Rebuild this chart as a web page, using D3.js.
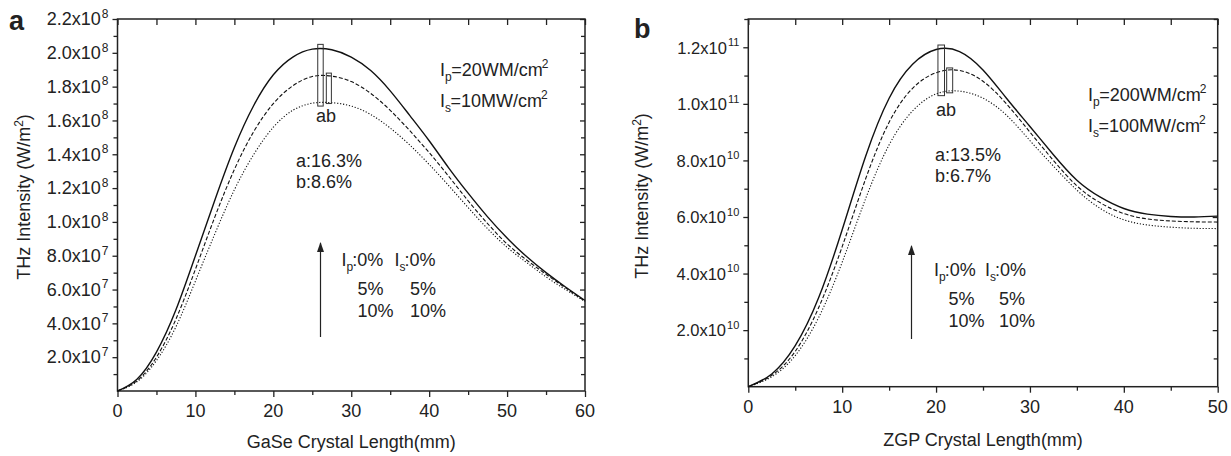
<!DOCTYPE html>
<html>
<head>
<meta charset="utf-8">
<script src="https://cdn.jsdelivr.net/npm/d3@7"></script>
<style>
  body { margin: 0; background: #fff; }
  text { font-family: "Liberation Sans", Arial, sans-serif; fill: #222; }
</style>
</head>
<body>
<svg id="chart" width="1231" height="456"></svg>
<script>
// panel a: GaSe, intensity in units of 1e7 W/m^2
const gaseLength = [0, 2.5, 5, 7.5, 10, 12.5, 15, 17.5, 20, 22.5, 25, 27.5, 30,
  32.5, 35, 37.5, 40, 42.5, 45, 47.5, 50, 52.5, 55, 57.5, 60];
const gaseNoError = [0, 0.7, 2.3, 4.8, 8.0, 11.3, 14.4, 16.9, 18.7, 19.75, 20.22, 20.18, 19.75,
  18.95, 17.75, 16.3, 14.8, 13.2, 11.7, 10.3, 9.05, 7.95, 7.0, 6.15, 5.35];
const gaseError5 = [0, 0.6, 2.0, 4.25, 7.2, 10.3, 13.1, 15.35, 17.0, 18.05, 18.6, 18.62, 18.3,
  17.6, 16.6, 15.4, 14.1, 12.7, 11.25, 9.9, 8.7, 7.75, 6.9, 6.1, 5.3];
const gaseError10 = [0, 0.55, 1.8, 3.8, 6.5, 9.3, 11.9, 14.0, 15.6, 16.6, 17.02, 17.05, 16.85,
  16.35, 15.55, 14.55, 13.4, 12.15, 10.85, 9.6, 8.5, 7.6, 6.75, 6.0, 5.3];
const gaseUnit = 1e7;
// peak drop boxes a, b: [x0, x1, yLow, yHigh]
const gaseBoxes = [[25.7, 26.4, 1.685e8, 2.05e8], [26.8, 27.45, 1.70e8, 1.88e8]];
const gaseYTicks = [2e7, 4e7, 6e7, 8e7, 1e8, 1.2e8, 1.4e8, 1.6e8, 1.8e8, 2e8, 2.2e8];

// panel b: ZGP, intensity in units of 1e10 W/m^2
const zgpLength = [0, 2.5, 5, 7.5, 10, 12.5, 15, 17.5, 20, 22.5, 25, 27.5, 30,
  32.5, 35, 37.5, 40, 42.5, 45, 47.5, 50];
const zgpNoError = [0, 0.45, 1.45, 3.15, 5.55, 8.15, 10.2, 11.4, 11.92, 11.85, 11.2, 10.2, 9.2,
  8.2, 7.3, 6.7, 6.3, 6.1, 6.02, 6.0, 6.03];
const zgpError5 = [0, 0.4, 1.25, 2.8, 4.95, 7.35, 9.35, 10.55, 11.1, 11.18, 10.8, 10.0, 9.0,
  8.0, 7.1, 6.5, 6.12, 5.93, 5.86, 5.83, 5.82];
const zgpError10 = [0, 0.35, 1.1, 2.45, 4.4, 6.65, 8.55, 9.75, 10.35, 10.45, 10.2, 9.6, 8.7,
  7.8, 6.95, 6.3, 5.9, 5.72, 5.64, 5.6, 5.59];
const zgpUnit = 1e10;
const zgpBoxes = [[20.2, 20.9, 1.029e11, 1.208e11], [21.13, 21.77, 1.039e11, 1.127e11]];
const zgpYTicks = [2e10, 4e10, 6e10, 8e10, 1e11, 1.2e11];

const svg = d3.select('#chart');

const styles = [
  {dash: null, width: 1.4},
  {dash: '4,2', width: 1.1},
  {dash: '1.2,1.8', width: 1.1}
];

svg.append('defs').append('marker')
    .attr('id', 'head')
    .attr('viewBox', '0 0 10 10')
    .attr('refX', 9).attr('refY', 5)
    .attr('markerWidth', 10).attr('markerHeight', 10)
    .attr('markerUnits', 'userSpaceOnUse')
    .attr('orient', 'auto')
  .append('path')
    .attr('d', 'M0,1.5L10,5L0,8.5Z')
    .attr('fill', '#222');

drawPanel({
  left: 117.5, right: 585, top: 19, bottom: 391,
  xMax: 60, yMax: 2.2e8, yMinorStep: 1e7,
  xs: gaseLength, series: [gaseNoError, gaseError5, gaseError10], unit: gaseUnit,
  boxes: gaseBoxes, yTicks: gaseYTicks, tickFont: 18, supFont: 12,
  xTitle: 'GaSe Crystal Length(mm)', xTitleY: 448, yTitleX: 30, yTitleY: 197,
  letter: 'a', letterX: 9, letterY: 30,
  ab: [326, 122], pct: [296, 167, 'a:16.3%', 'b:8.6%'],
  pump: [440, 75.5, '=20WM/cm', '=10MW/cm'],
  arrow: [320.5, 337, 243],
  legend: [341.5, 266, 357.5, 394.5, 410]
});

drawPanel({
  left: 748.3, right: 1217.7, top: 19, bottom: 386.7,
  xMax: 50, yMax: 1.3e11, yMinorStep: 1e10,
  xs: zgpLength, series: [zgpNoError, zgpError5, zgpError10], unit: zgpUnit,
  boxes: zgpBoxes, yTicks: zgpYTicks, tickFont: 16.5, supFont: 11,
  xTitle: 'ZGP Crystal Length(mm)', xTitleY: 446, yTitleX: 648, yTitleY: 196,
  letter: 'b', letterX: 634, letterY: 38,
  ab: [946, 116], pct: [935, 161, 'a:13.5%', 'b:6.7%'],
  pump: [1088, 100.5, '=200WM/cm', '=100MW/cm'],
  arrow: [911.5, 339, 246],
  legend: [934, 275.5, 948.5, 985, 999]
});

function drawPanel(p) {
  const g = svg.append('g');
  const x = d3.scaleLinear().domain([0, p.xMax]).range([p.left, p.right]);
  const y = d3.scaleLinear().domain([0, p.yMax]).range([p.bottom, p.top]);

  const xMajor = d3.range(0, p.xMax + 0.1, 10);
  const xMinor = d3.range(5, p.xMax, 10);
  const yMinor = d3.range(p.yMinorStep, p.yMax * 1.0001, p.yMinorStep)
      .filter(v => !p.yTicks.some(t => Math.abs(t - v) < p.yMinorStep / 10));

  const tickAxis = (axis, transform) => {
    const a = g.append('g').attr('transform', transform).call(axis);
    a.select('.domain').remove();
    a.selectAll('line').attr('stroke', '#222').attr('stroke-width', 1.3);
    a.selectAll('text').remove();
    return a;
  };

  // bottom: outward
  tickAxis(d3.axisBottom(x).tickValues(xMajor).tickSize(6), `translate(0,${p.bottom})`);
  tickAxis(d3.axisBottom(x).tickValues(xMinor).tickSize(4), `translate(0,${p.bottom})`);
  // top: inward
  tickAxis(d3.axisTop(x).tickValues(xMajor).tickSize(-6), `translate(0,${p.top})`);
  tickAxis(d3.axisTop(x).tickValues(xMinor).tickSize(-6), `translate(0,${p.top})`);
  // left: outward
  tickAxis(d3.axisLeft(y).tickValues(p.yTicks).tickSize(5), `translate(${p.left},0)`);
  tickAxis(d3.axisLeft(y).tickValues(yMinor).tickSize(4), `translate(${p.left},0)`);
  // right: inward
  tickAxis(d3.axisRight(y).tickValues(p.yTicks).tickSize(-5), `translate(${p.right},0)`);
  tickAxis(d3.axisRight(y).tickValues(yMinor).tickSize(-4), `translate(${p.right},0)`);

  g.append('rect')
      .attr('x', p.left).attr('y', p.top)
      .attr('width', p.right - p.left).attr('height', p.bottom - p.top)
      .attr('fill', 'none').attr('stroke', '#222').attr('stroke-width', 1.5);

  // x tick labels
  g.selectAll('.xl')
    .data(xMajor)
    .join('text')
      .attr('x', d => x(d))
      .attr('y', p.bottom + 26)
      .attr('text-anchor', 'middle')
      .attr('font-size', 18)
      .text(d => d);

  // y tick labels like 2.2x10^8
  g.selectAll('.yl')
    .data(p.yTicks)
    .join('text')
      .attr('x', p.left - 9)
      .attr('y', d => y(d) + 6.3)
      .attr('text-anchor', 'end')
      .attr('font-size', p.tickFont)
      .each(function(d) {
        const e = Math.floor(Math.log10(d) + 1e-9);
        const m = d / Math.pow(10, e);
        const t = d3.select(this);
        t.append('tspan').text(m.toFixed(1) + 'x10');
        t.append('tspan').attr('font-size', p.supFont).attr('dy', -7.5).attr('dx', 1).text(e);
      });

  // curves
  const line = d3.line()
      .x(d => x(d[0]))
      .y(d => y(d[1] * p.unit))
      .curve(d3.curveNatural);

  g.selectAll('.curve')
    .data(p.series)
    .join('path')
      .attr('d', s => line(p.xs.map((v, i) => [v, s[i]])))
      .attr('fill', 'none')
      .attr('stroke', '#111')
      .attr('stroke-width', (s, i) => styles[i].width)
      .attr('stroke-dasharray', (s, i) => styles[i].dash);

  // drop boxes
  g.selectAll('.box')
    .data(p.boxes)
    .join('rect')
      .attr('x', d => x(d[0]))
      .attr('y', d => y(d[3]))
      .attr('width', d => x(d[1]) - x(d[0]))
      .attr('height', d => y(d[2]) - y(d[3]))
      .attr('fill', 'none')
      .attr('stroke', '#333')
      .attr('stroke-width', 1);

  const txt = (tx, ty, size) => g.append('text')
      .attr('x', tx).attr('y', ty).attr('font-size', size || 18);

  txt(p.ab[0], p.ab[1]).attr('text-anchor', 'middle').text('ab');
  txt(p.pct[0], p.pct[1]).text(p.pct[2]);
  txt(p.pct[0], p.pct[1] + 21).text(p.pct[3]);

  // pump / signal intensity labels
  [[p.pump[2], 'p', 0], [p.pump[3], 's', 31.5]].forEach(([rest, sub, off]) => {
    const t = txt(p.pump[0], p.pump[1] + off);
    t.append('tspan').text('I');
    t.append('tspan').attr('font-size', 12).attr('dy', 5).text(sub);
    t.append('tspan').attr('dy', -5).attr('dx', -0.5).text(rest);
    t.append('tspan').attr('font-size', 12).attr('dy', -8).attr('dx', -1).text('2');
  });

  // arrow
  g.append('line')
      .attr('x1', p.arrow[0]).attr('x2', p.arrow[0])
      .attr('y1', p.arrow[1]).attr('y2', p.arrow[2])
      .attr('stroke', '#222').attr('stroke-width', 1.2)
      .attr('marker-end', 'url(#head)');

  // error legend
  const [lx, ly, lx2, sx, sx2] = p.legend;
  [[lx, 'p'], [sx, 's']].forEach(([px, sub]) => {
    const t = txt(px, ly);
    t.append('tspan').text('I');
    t.append('tspan').attr('font-size', 12).attr('dy', 5).text(sub);
    t.append('tspan').attr('dy', -5).attr('dx', -1).text(':0%');
  });
  txt(lx2, ly + 29).text('5%');
  txt(lx2, ly + 51).text('10%');
  txt(sx2, ly + 29).text('5%');
  txt(sx2, ly + 51).text('10%');

  // axis titles
  txt((p.left + p.right) / 2, p.xTitleY).attr('text-anchor', 'middle').text(p.xTitle);
  const yt = g.append('text')
      .attr('transform', `translate(${p.yTitleX},${p.yTitleY}) rotate(-90)`)
      .attr('text-anchor', 'middle')
      .attr('font-size', 18);
  yt.append('tspan').text('THz Intensity (W/m');
  yt.append('tspan').attr('font-size', 12).attr('dy', -7).text('2');
  yt.append('tspan').attr('dy', 7).text(')');

  txt(p.letterX, p.letterY, 27).attr('font-weight', 'bold').text(p.letter);
}
</script>
</body>
</html>
